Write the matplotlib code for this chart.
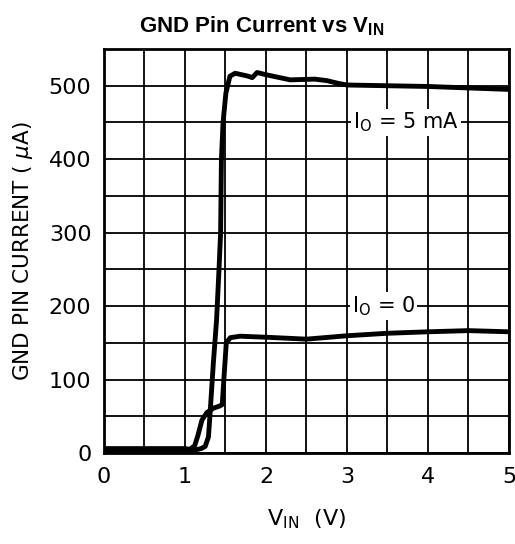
import matplotlib
matplotlib.use("Agg")
import matplotlib.pyplot as plt

plt.rcParams['font.family'] = ['DejaVu Sans']
plt.rcParams['mathtext.fontset'] = 'custom'
plt.rcParams['mathtext.rm'] = 'DejaVu Sans'
plt.rcParams['mathtext.bf'] = 'Liberation Sans:bold'

# I_O = 0 curve
vin_0 = [0.0, 1.0, 1.06, 1.12, 1.16, 1.21, 1.27, 1.35, 1.43, 1.46, 1.48, 1.51,
         1.56, 1.68, 2.0, 2.5, 3.0, 3.5, 4.0, 4.5, 5.0]
ignd_0 = [6, 6, 5, 10, 24, 45, 55, 61, 64, 66, 100, 150,
          157, 159, 157.6, 155, 159.6, 163, 165, 166.6, 165]

# I_O = 5 mA curve
vin_5 = [0.0, 1.05, 1.12, 1.2, 1.25, 1.29, 1.31, 1.35, 1.39, 1.42, 1.44, 1.45,
         1.47, 1.505, 1.555, 1.62, 1.78, 1.83, 1.89, 2.0, 2.3, 2.6, 2.75, 2.9,
         3.0, 4.0, 5.0]
ignd_5 = [4, 4, 4, 6, 9, 22, 54, 122, 181, 250, 300, 400,
          450, 490, 513, 517, 513, 511, 518, 515, 508, 509, 507, 503,
          501, 499, 495]

xticks = [0, 1, 2, 3, 4, 5]
yticks = [0, 100, 200, 300, 400, 500]

fig = plt.figure(figsize=(5.15, 5.44), dpi=100)
ax = fig.add_axes([0.2019, 0.1673, 0.7864, 0.7426])

ax.plot(vin_0, ignd_0, color='black', lw=3.5, solid_capstyle='butt', zorder=3)
ax.plot(vin_5, ignd_5, color='black', lw=3.5, solid_capstyle='butt', zorder=3)

ax.set_xlim(0, 5)
ax.set_ylim(0, 550)
ax.set_xticks(xticks)
ax.set_xticks([0.5, 1.5, 2.5, 3.5, 4.5], minor=True)
ax.set_yticks(yticks)
ax.set_yticks([50, 150, 250, 350, 450], minor=True)
ax.grid(True, which='both', color='black', lw=1.3, zorder=1)
ax.tick_params(which='both', length=0)
ax.tick_params(axis='x', pad=10, labelsize=16)
ax.tick_params(axis='y', pad=9, labelsize=16)
for s in ax.spines.values():
    s.set_linewidth(2)

ax.text(3.73, 450, r'I$_\mathrm{O}$ = 5 mA', fontsize=15, ha='center', va='center',
        bbox=dict(facecolor='white', edgecolor='none', pad=1.5), zorder=4)
ax.text(3.45, 200, r'I$_\mathrm{O}$ = 0', fontsize=15, ha='center', va='center',
        bbox=dict(facecolor='white', edgecolor='none', pad=1.5), zorder=4)

ax.set_xlabel(r'V$_\mathrm{IN}$  (V)', fontsize=16, labelpad=15)
ax.set_ylabel(r'GND PIN CURRENT ( $\mu$A)', fontsize=15.5, labelpad=10)
ax.set_title(r'GND Pin Current vs V$_\mathbf{IN}$', fontsize=16, x=0.39,
             fontweight='bold', family='Liberation Sans', pad=12)

fig.savefig("out.png", dpi=100)
